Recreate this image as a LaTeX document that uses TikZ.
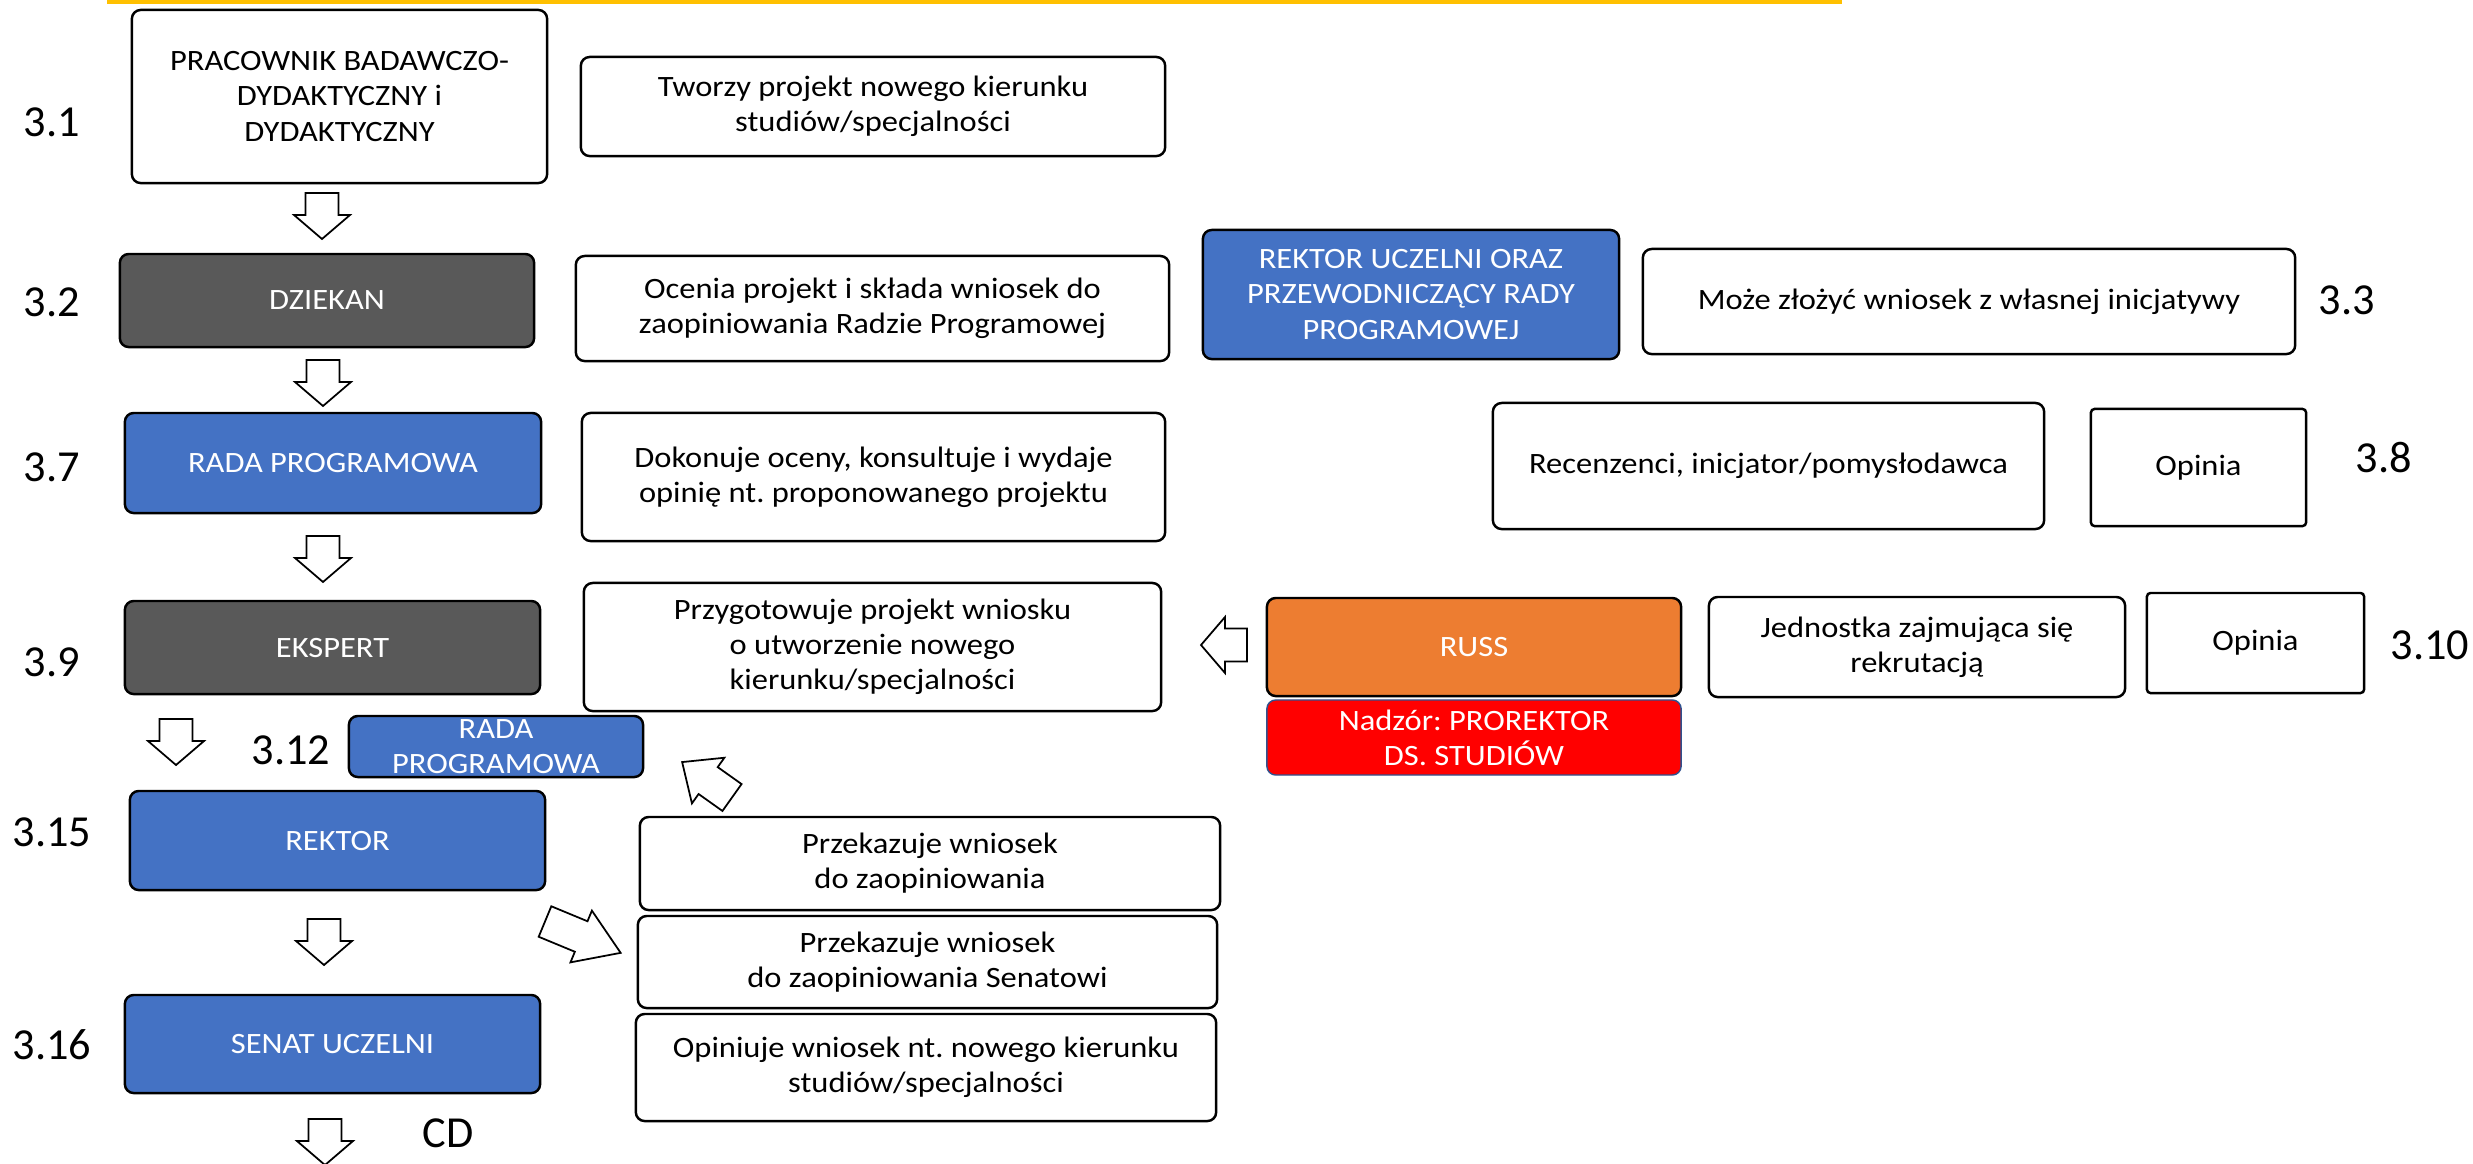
\documentclass[tikz,border=0pt]{standalone}
\usepackage{fontspec}
\setmainfont{Carlito}
\newfontfamily\boxfam{Carlito}[FakeStretch=1.1]
\usetikzlibrary{positioning}

\definecolor{cDark}{HTML}{595959}
\definecolor{cBlue}{HTML}{4472C4}
\definecolor{cOrange}{HTML}{ED7D31}
\definecolor{cRed}{HTML}{FF0000}
\definecolor{cRedLine}{HTML}{2F528F}
\definecolor{cTop}{HTML}{FFC000}

\newcommand{\boxfont}{\frenchspacing\boxfam\fontsize{8.4}{10}\selectfont}
\newcommand{\numfont}{\fontsize{12.6}{15}\selectfont}

\tikzset{
  barrow/.pic={\draw[line width=.5pt,fill=white] (0,-16.5) -- (22,-16.5) -- (22,-28) -- (46,0) -- (22,28) -- (22,16.5) -- (0,16.5) -- cycle;}
}

\begin{document}
\begin{tikzpicture}[x=0.01cm,y=-0.01cm,
  wbox/.style={draw,line width=.7pt,rounded corners=2.5pt,inner sep=0pt,align=center,font=\boxfont},
  dbox/.style={wbox,fill=cDark,text=white},
  bluebox/.style={wbox,fill=cBlue,text=white},
  obox/.style={wbox,rounded corners=1pt},
  num/.style={inner sep=0pt,font=\numfont}]
  \useasboundingbox (0,0) rectangle (2473,1163);
  \fill[cTop] (107,0) rectangle (1842,4);

  % left column
  \node[wbox,minimum width=4.15cm,minimum height=1.73cm] (prac) at (339.5,96.5) {PRACOWNIK BADAWCZO-\\DYDAKTYCZNY i\\DYDAKTYCZNY};
  \node[dbox,minimum width=4.14cm,minimum height=.93cm] (dziekan) at (327,300.5) {DZIEKAN};
  \node[bluebox,minimum width=4.16cm,minimum height=1cm] (rada) at (333,463) {RADA PROGRAMOWA};
  \node[dbox,minimum width=4.15cm,minimum height=.93cm] (ekspert) at (332.5,647.5) {EKSPERT};
  \node[bluebox,minimum width=2.94cm,minimum height=.61cm] (radap) at (496,746.5) {RADA\\PROGRAMOWA};
  \node[bluebox,minimum width=4.15cm,minimum height=.99cm] (rektor) at (337.5,840.5) {REKTOR};
  \node[bluebox,minimum width=4.15cm,minimum height=.98cm] (senat) at (332.5,1044) {SENAT UCZELNI};

  % descriptions
  \node[wbox,minimum width=5.84cm,minimum height=.99cm] (tworzy) at (873,106.5) {Tworzy projekt nowego kierunku\\studiów/specjalności};
  \node[wbox,minimum width=5.93cm,minimum height=1.05cm] (ocenia) at (872.5,308.5) {Ocenia projekt i składa wniosek do\\zaopiniowania Radzie Programowej};
  \node[wbox,minimum width=5.83cm,minimum height=1.28cm] (dokonuje) at (873.5,477) {Dokonuje oceny, konsultuje i wydaje\\opinię nt. proponowanego projektu};
  \node[wbox,minimum width=5.77cm,minimum height=1.28cm] (przyg) at (872.5,647) {Przygotowuje projekt wniosku\\o utworzenie nowego\\kierunku/specjalności};
  \node[wbox,minimum width=5.8cm,minimum height=.93cm] (przek1) at (930,863.5) {Przekazuje wniosek\\do zaopiniowania};
  \node[wbox,minimum width=5.79cm,minimum height=.92cm] (przek2) at (927.5,962) {Przekazuje wniosek\\do zaopiniowania Senatowi};
  \node[wbox,minimum width=5.8cm,minimum height=1.07cm] (opiniuje) at (926,1067.5) {Opiniuje wniosek nt. nowego kierunku\\studiów/specjalności};

  % right part
  \node[bluebox,minimum width=4.16cm,minimum height=1.29cm] (rektorrp) at (1411,294.5) {REKTOR UCZELNI ORAZ\\PRZEWODNICZĄCY RADY\\PROGRAMOWEJ};
  \node[wbox,minimum width=6.52cm,minimum height=1.05cm] (moze) at (1969,301.5) {Może złożyć wniosek z własnej inicjatywy};
  \node[wbox,minimum width=5.51cm,minimum height=1.26cm] (recenz) at (1768.5,466) {Recenzenci, inicjator/pomysłodawca};
  \node[obox,minimum width=2.15cm,minimum height=1.17cm] (opinia1) at (2198.5,467.5) {Opinia};
  \node[wbox,fill=cOrange,text=white,minimum width=4.14cm,minimum height=.98cm] (russ) at (1474,647) {RUSS};
  \node[wbox,fill=cRed,draw=cRedLine,line width=.4pt,text=white,minimum width=4.14cm,minimum height=.75cm,below=.02cm of russ] (nadzor) {Nadzór: PROREKTOR\\DS. STUDIÓW};
  \node[wbox,minimum width=4.16cm,minimum height=1cm] (jedn) at (1917,647) {Jednostka zajmująca się\\rekrutacją};
  \node[obox,minimum width=2.17cm,minimum height=1cm] (opinia2) at (2255.5,643) {Opinia};

  % numbers
  \node[num] (n31) at (52,122) {3.1};
  \node[num] (n32) at (52,302) {3.2};
  \node[num] (n33) at (2347,300) {3.3};
  \node[num] (n37) at (52,467) {3.7};
  \node[num] (n38) at (2384,458) {3.8};
  \node[num] (n39) at (52,662) {3.9};
  \node[num] (n310) at (2430,645) {3.10};
  \node[num] (n312) at (291,750) {3.12};
  \node[num] (n315) at (52,832) {3.15};
  \node[num] (n316) at (52,1045) {3.16};
  \node[num] (cd) at (448,1133) {CD};

  % block arrows
  \pic[rotate=-90] at (322,193) {barrow};
  \pic[rotate=-90] at (323,360) {barrow};
  \pic[rotate=-90] at (323,536) {barrow};
  \pic[rotate=-90] at (176,719) {barrow};
  \pic[rotate=-90] at (324,919) {barrow};
  \pic[rotate=-90] at (325,1119) {barrow};
  \pic[rotate=180] at (1247,645) {barrow};
  \pic[rotate=144.6,xscale=1.33] at (732,797.5) {barrow};
  \pic[rotate=-22.5,xscale=1.78] at (545,921.5) {barrow};
\end{tikzpicture}
\end{document}
